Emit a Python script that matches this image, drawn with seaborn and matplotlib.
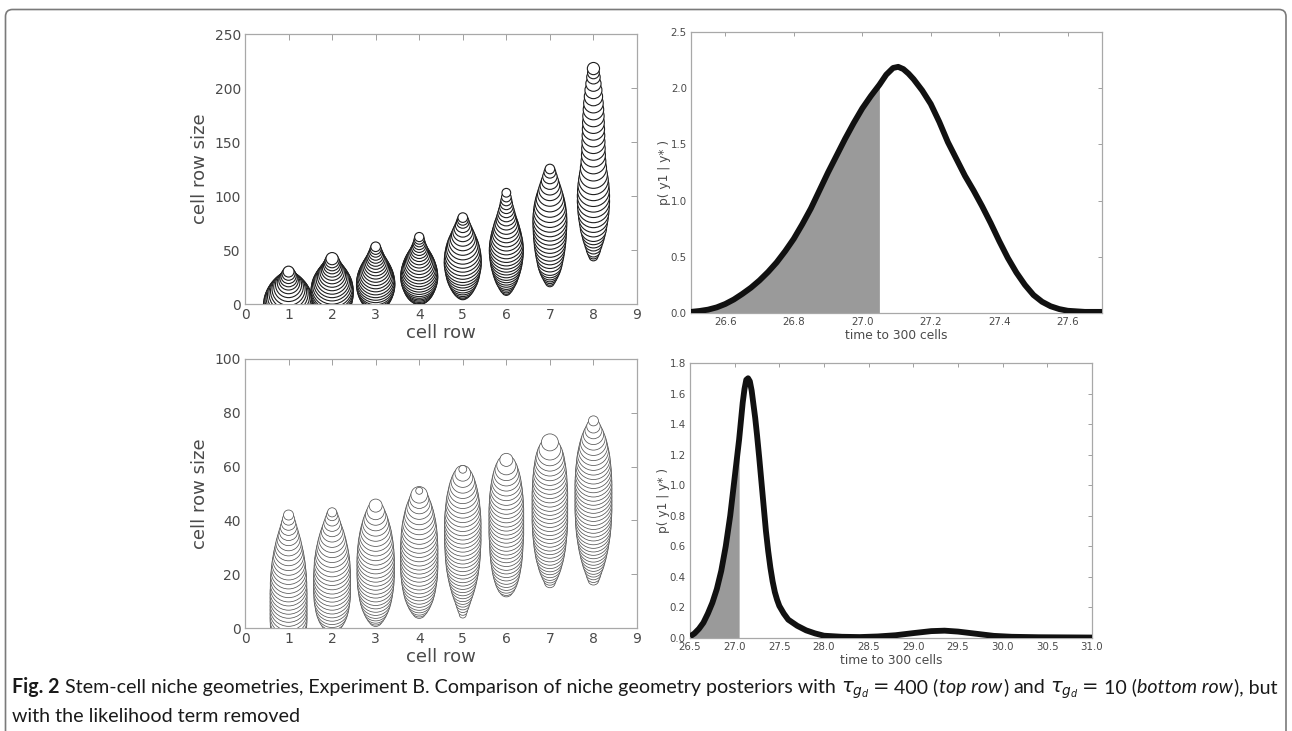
import numpy as np
import pandas as pd
import matplotlib
matplotlib.use("Agg")
import matplotlib.pyplot as plt
import seaborn as sns
from matplotlib.patches import FancyBboxPatch
from matplotlib.transforms import IdentityTransform

# ---------------- data ----------------
cell_rows = [1, 2, 3, 4, 5, 6, 7, 8]

# top row (tau = 400): sampled row sizes per cell row and relative frequency (circle width, in cell-row units)
top_y = [
    [0, 2, 4, 6, 8, 10, 12, 14, 16, 18, 20, 22, 24, 26, 28, 30],
    [0, 2, 4, 6, 8, 10, 12, 14, 16, 18, 20, 22, 24, 26, 28, 30, 32, 34, 36, 38, 40, 42],
    [3, 5, 7, 9, 11, 13, 15, 17, 19, 21, 23, 25, 27, 29, 31, 33, 35, 37, 39, 41, 43, 45, 47, 49, 51, 53],
    [6, 8, 10, 12, 14, 16, 18, 20, 22, 24, 26, 28, 30, 32, 34, 36, 38, 40, 42, 44, 46, 48, 50, 52, 54, 56, 58, 60, 62],
    [8, 10, 13, 16, 19, 22, 25, 28, 31, 34, 37, 40, 43, 46, 49, 52, 55, 58, 61, 64, 67, 70, 73, 76, 78, 80],
    [12, 15, 18, 21, 24, 27, 30, 33, 36, 39, 42, 45, 48, 51, 54, 57, 60, 63, 66, 69, 72, 75, 78, 81, 84, 87, 90, 93, 96, 99, 103],
    [20, 23, 26, 29, 32, 35, 38, 42, 46, 50, 54, 58, 62, 66, 70, 74, 78, 82, 86, 90, 94, 98, 102, 106, 110, 114, 118, 122, 125],
    [44, 47, 50, 54, 58, 62, 66, 70, 75, 80, 85, 90, 95, 100, 105, 110, 115, 120, 126, 132, 138, 144, 150, 156, 162, 168, 174, 180, 186, 192, 198, 204, 210, 214, 218],
]
top_w = [
    [1.15, 1.12, 1.08, 1.03, 0.97, 0.9, 0.83, 0.76, 0.68, 0.6, 0.52, 0.45, 0.4, 0.35, 0.3, 0.25],
    [0.85, 0.88, 0.91, 0.94, 0.96, 0.97, 0.97, 0.96, 0.94, 0.9, 0.85, 0.8, 0.74, 0.68, 0.62, 0.56, 0.5, 0.45, 0.4, 0.36, 0.32, 0.28],
    [0.55, 0.62, 0.68, 0.74, 0.79, 0.83, 0.86, 0.88, 0.88, 0.87, 0.85, 0.82, 0.78, 0.74, 0.69, 0.64, 0.59, 0.54, 0.49, 0.44, 0.4, 0.36, 0.32, 0.28, 0.25, 0.22],
    [0.3, 0.42, 0.52, 0.6, 0.67, 0.72, 0.76, 0.8, 0.83, 0.85, 0.85, 0.84, 0.82, 0.79, 0.76, 0.72, 0.68, 0.63, 0.58, 0.53, 0.48, 0.43, 0.39, 0.35, 0.31, 0.28, 0.25, 0.23, 0.21],
    [0.18, 0.3, 0.42, 0.52, 0.6, 0.67, 0.73, 0.77, 0.8, 0.83, 0.85, 0.85, 0.84, 0.82, 0.79, 0.75, 0.7, 0.64, 0.58, 0.52, 0.46, 0.4, 0.34, 0.29, 0.25, 0.22],
    [0.2, 0.3, 0.38, 0.45, 0.52, 0.57, 0.62, 0.66, 0.7, 0.73, 0.75, 0.77, 0.78, 0.78, 0.77, 0.75, 0.72, 0.69, 0.65, 0.61, 0.57, 0.52, 0.47, 0.43, 0.39, 0.35, 0.31, 0.28, 0.25, 0.22, 0.2],
    [0.2, 0.28, 0.35, 0.42, 0.48, 0.53, 0.57, 0.61, 0.65, 0.68, 0.71, 0.73, 0.75, 0.76, 0.77, 0.78, 0.78, 0.77, 0.75, 0.72, 0.68, 0.63, 0.57, 0.51, 0.45, 0.39, 0.33, 0.27, 0.22],
    [0.2, 0.26, 0.32, 0.38, 0.44, 0.5, 0.55, 0.6, 0.64, 0.68, 0.71, 0.73, 0.74, 0.74, 0.73, 0.71, 0.68, 0.64, 0.6, 0.57, 0.55, 0.54, 0.53, 0.52, 0.51, 0.5, 0.49, 0.47, 0.45, 0.42, 0.39, 0.35, 0.31, 0.27, 0.28],
]

# bottom row (tau = 10)
bot_y = [
    [0, 1.5, 3, 4.5, 6, 7.5, 9, 10.5, 12, 13.5, 15, 16.5, 18, 19.5, 21, 22.5, 24, 25.5, 27, 28.5, 30, 31.5, 33, 34.5, 36, 37.5, 39, 40.5, 42],
    [3, 4.5, 6, 7.5, 9, 10.5, 12, 13.5, 15, 16.5, 18, 19.5, 21, 22.5, 24, 25.5, 27, 28.5, 30, 31.5, 33, 34.5, 36, 37.5, 39, 40.5, 42, 43],
    [3, 4.5, 6, 7.5, 9, 10.5, 12, 13.5, 15, 16.5, 18, 19.5, 21, 22.5, 24, 25.5, 27, 28.5, 30, 31.5, 33, 34.5, 36, 37.5, 39, 40.5, 42, 43.5, 45.5],
    [6, 7.5, 9, 10.5, 12, 13.5, 15, 16.5, 18, 19.5, 21, 22.5, 24, 25.5, 27, 28.5, 30, 31.5, 33, 34.5, 36, 37.5, 39, 40.5, 42, 43.5, 45, 46.5, 48, 49.5, 51],
    [5, 6.5, 8, 9.5, 11, 12.5, 14, 15.5, 17, 18.5, 20, 21.5, 23, 24.5, 26, 27.5, 29, 30.5, 32, 33.5, 35, 36.5, 38, 39.5, 41, 42.5, 44, 45.5, 47, 48.5, 50, 51.5, 53, 54.5, 56, 57.5, 59],
    [14, 15.5, 17, 18.5, 20, 21.5, 23, 24.5, 26, 27.5, 29, 30.5, 32, 33.5, 35, 36.5, 38, 39.5, 41, 42.5, 44, 45.5, 47, 48.5, 50, 51.5, 53, 54.5, 56, 57.5, 59, 60.5, 62.5],
    [17, 18.5, 20, 21.5, 23, 24.5, 26, 27.5, 29, 30.5, 32, 33.5, 35, 36.5, 38, 39.5, 41, 42.5, 44, 45.5, 47, 48.5, 50, 51.5, 53, 54.5, 56, 57.5, 59, 60.5, 62, 63.5, 65, 66.5, 69],
    [18, 19.5, 21, 22.5, 24, 25.5, 27, 28.5, 30, 31.5, 33, 34.5, 36, 37.5, 39, 40.5, 42, 43.5, 45, 46.5, 48, 49.5, 51, 52.5, 54, 55.5, 57, 58.5, 60, 61.5, 63, 64.5, 66, 67.5, 69, 70.5, 72, 73.5, 75, 77],
]
bot_w = [
    [0.83, 0.84, 0.85, 0.85, 0.85, 0.85, 0.85, 0.85, 0.85, 0.85, 0.84, 0.84, 0.83, 0.82, 0.8, 0.78, 0.76, 0.73, 0.7, 0.66, 0.62, 0.58, 0.53, 0.48, 0.43, 0.38, 0.33, 0.28, 0.23],
    [0.55, 0.65, 0.72, 0.77, 0.8, 0.83, 0.84, 0.85, 0.85, 0.85, 0.85, 0.85, 0.84, 0.83, 0.82, 0.8, 0.77, 0.74, 0.7, 0.66, 0.61, 0.56, 0.5, 0.44, 0.38, 0.32, 0.26, 0.21],
    [0.3, 0.42, 0.52, 0.6, 0.67, 0.72, 0.76, 0.79, 0.82, 0.84, 0.85, 0.86, 0.86, 0.86, 0.86, 0.86, 0.85, 0.84, 0.82, 0.8, 0.77, 0.74, 0.7, 0.65, 0.6, 0.54, 0.47, 0.4, 0.3],
    [0.3, 0.42, 0.52, 0.6, 0.67, 0.72, 0.76, 0.79, 0.82, 0.84, 0.85, 0.86, 0.86, 0.86, 0.86, 0.86, 0.86, 0.85, 0.84, 0.83, 0.81, 0.79, 0.76, 0.72, 0.68, 0.63, 0.57, 0.5, 0.44, 0.38, 0.16],
    [0.16, 0.22, 0.28, 0.34, 0.4, 0.46, 0.52, 0.57, 0.62, 0.66, 0.7, 0.73, 0.76, 0.78, 0.8, 0.81, 0.82, 0.83, 0.84, 0.84, 0.84, 0.84, 0.84, 0.84, 0.83, 0.82, 0.8, 0.78, 0.76, 0.73, 0.69, 0.65, 0.6, 0.54, 0.46, 0.36, 0.18],
    [0.3, 0.42, 0.5, 0.56, 0.61, 0.65, 0.68, 0.71, 0.73, 0.75, 0.76, 0.77, 0.78, 0.79, 0.8, 0.8, 0.8, 0.8, 0.8, 0.8, 0.8, 0.79, 0.78, 0.77, 0.75, 0.73, 0.7, 0.67, 0.63, 0.58, 0.52, 0.44, 0.3],
    [0.25, 0.32, 0.4, 0.47, 0.53, 0.58, 0.63, 0.67, 0.7, 0.73, 0.75, 0.77, 0.79, 0.8, 0.81, 0.82, 0.82, 0.82, 0.82, 0.82, 0.82, 0.82, 0.82, 0.81, 0.8, 0.79, 0.78, 0.76, 0.74, 0.71, 0.68, 0.64, 0.58, 0.5, 0.39],
    [0.25, 0.32, 0.38, 0.44, 0.5, 0.55, 0.6, 0.64, 0.68, 0.71, 0.74, 0.77, 0.79, 0.81, 0.82, 0.83, 0.84, 0.85, 0.85, 0.85, 0.85, 0.85, 0.85, 0.85, 0.85, 0.84, 0.83, 0.82, 0.8, 0.78, 0.76, 0.73, 0.69, 0.65, 0.6, 0.54, 0.47, 0.39, 0.31, 0.23],
]

# posterior densities of time to 300 cells
top_t = [26.50, 26.525, 26.55, 26.575, 26.60, 26.625, 26.65, 26.675, 26.70, 26.725, 26.75, 26.775,
         26.80, 26.825, 26.85, 26.875, 26.90, 26.925, 26.95, 26.975, 27.00, 27.025, 27.05, 27.07,
         27.09, 27.105, 27.12, 27.135, 27.15, 27.175, 27.20, 27.225, 27.25, 27.275, 27.30, 27.325,
         27.35, 27.375, 27.40, 27.425, 27.45, 27.475, 27.50, 27.525, 27.55, 27.575, 27.60, 27.65,
         27.70]
top_p = [0.01, 0.018, 0.03, 0.05, 0.08, 0.12, 0.17, 0.225, 0.29, 0.365, 0.45, 0.55,
         0.66, 0.79, 0.93, 1.09, 1.25, 1.40, 1.55, 1.69, 1.82, 1.93, 2.03, 2.12,
         2.18, 2.19, 2.17, 2.13, 2.08, 1.98, 1.86, 1.70, 1.52, 1.37, 1.22, 1.09,
         0.95, 0.80, 0.64, 0.49, 0.36, 0.25, 0.16, 0.10, 0.06, 0.035, 0.02, 0.01,
         0.01]
bot_t = [26.50, 26.55, 26.60, 26.65, 26.70, 26.75, 26.80, 26.85, 26.90, 26.95, 27.00, 27.05,
         27.07, 27.09, 27.11, 27.13, 27.15, 27.17, 27.19, 27.21, 27.23, 27.25, 27.275, 27.30,
         27.325, 27.35, 27.375, 27.40, 27.425, 27.45, 27.475, 27.50, 27.55, 27.60, 27.65, 27.70,
         27.80, 27.90, 28.00, 28.20, 28.40, 28.60, 28.80, 29.00, 29.20, 29.35, 29.50, 29.70,
         29.90, 30.10, 30.40, 30.70, 31.00]
bot_p = [0.01, 0.03, 0.06, 0.10, 0.16, 0.23, 0.32, 0.44, 0.60, 0.80, 1.05, 1.30,
         1.42, 1.54, 1.63, 1.69, 1.70, 1.68, 1.62, 1.53, 1.44, 1.33, 1.18, 1.02,
         0.86, 0.70, 0.57, 0.46, 0.37, 0.30, 0.25, 0.21, 0.16, 0.12, 0.10, 0.08,
         0.05, 0.03, 0.015, 0.008, 0.006, 0.010, 0.018, 0.032, 0.045, 0.048, 0.042, 0.028,
         0.014, 0.008, 0.005, 0.004, 0.003]
shade_limit = 27.05

top_xticks = [26.6, 26.8, 27.0, 27.2, 27.4, 27.6]
top_yticks = [0.0, 0.5, 1.0, 1.5, 2.0, 2.5]
bot_xticks = [26.5, 27.0, 27.5, 28.0, 28.5, 29.0, 29.5, 30.0, 30.5, 31.0]
bot_yticks = [0.0, 0.2, 0.4, 0.6, 0.8, 1.0, 1.2, 1.4, 1.6, 1.8]

caption_line1 = [
    ("Fig. 2", "bold"), (" ", None),
    ("Stem-cell niche geometries, Experiment B. Comparison of niche geometry posteriors with", "normal"), (" ", None),
    (r"$\tau_{g_d}=$", "math"), (" ", None), ("400 (", "normal"),
    ("top row", "italic"), (")", "normal"), (" ", None), ("and", "normal"), (" ", None),
    (r"$\tau_{g_d}=$", "math"), (" ", None), ("10 (", "normal"),
    ("bottom row", "italic"), ("), but", "normal"),
]
caption_line2 = [("with the likelihood term removed", "normal")]

# ---------------- style ----------------
sns.set_style("white")
plt.rcParams['font.family'] = ['DejaVu Sans']
plt.rcParams['mathtext.fontset'] = 'dejavusans'

W, H, DPI = 1292, 731, 100
fig = plt.figure(figsize=(W / DPI, H / DPI), dpi=DPI)
fig.patch.set_facecolor('white')

def px_axes(l, t, r, b):
    return fig.add_axes([l / W, 1 - b / H, (r - l) / W, (b - t) / H])

ax_tl = px_axes(245, 34, 637, 304)
ax_tr = px_axes(691, 32, 1102, 313)
ax_bl = px_axes(245, 359, 637, 628)
ax_br = px_axes(690, 363, 1092, 638)

TXT = '#4a4a4a'
SPINE = '#a8a8a8'

def style_axes(ax, tick_size, tick_len):
    for s in ax.spines.values():
        s.set_visible(True)
        s.set_color(SPINE)
        s.set_linewidth(0.9)
    ax.tick_params(direction='in', top=True, right=True, length=tick_len, width=0.7,
                   color='#a0a0a0', labelcolor=TXT, labelsize=tick_size, pad=3)

def circles(ax, ys, ws, edge, lw):
    rows, yy, ww = [], [], []
    for r, yl, wl in zip(cell_rows, ys, ws):
        rows += [r] * len(yl)
        yy += list(yl)
        ww += list(wl)
    df = pd.DataFrame({'row': rows, 'size': yy, 'w': ww})
    bb = ax.get_position()
    px_per_unit = bb.width * W / 9.0
    diam_pt = df['w'].values * px_per_unit * 72.0 / DPI
    sns.scatterplot(data=df, x='row', y='size', s=diam_pt ** 2, color='white',
                    edgecolor=edge, linewidth=lw, ax=ax, legend=False, zorder=3)

def left_panel(ax, ys, ws, ymax, ystep, edge, lw):
    circles(ax, ys, ws, edge, lw)
    ax.set_xlim(0, 9)
    ax.set_ylim(0, ymax)
    ax.set_xticks(range(0, 10))
    ax.set_yticks(np.arange(0, ymax + 1, ystep))
    style_axes(ax, 10, 4)
    ax.set_xlabel('cell row', fontsize=13, color=TXT, labelpad=1)
    ax.set_ylabel('cell row size', fontsize=13, color=TXT, labelpad=4)

left_panel(ax_tl, top_y, top_w, 250, 50, '#1e1e1e', 0.8)
left_panel(ax_bl, bot_y, bot_w, 100, 20, '#555555', 0.55)

def right_panel(ax, t, p, xlim, ylim, xt, yt):
    t = np.asarray(t); p = np.asarray(p)
    m = t <= shade_limit + 1e-9
    ax.fill_between(t[m], 0, p[m], color='#9a9a9a', lw=0, zorder=1)
    sns.lineplot(x=t, y=p, color='#111111', lw=4.2, ax=ax, zorder=3,
                 solid_joinstyle='round', solid_capstyle='butt')
    ax.set_xlim(*xlim)
    ax.set_ylim(*ylim)
    ax.set_xticks(xt)
    ax.set_yticks(yt)
    ax.set_xticklabels([f'{v:.1f}' for v in xt])
    ax.set_yticklabels([f'{v:.1f}' for v in yt])
    style_axes(ax, 7.4, 3)
    ax.set_xlabel('time to 300 cells', fontsize=8.8, color=TXT, labelpad=1)
    ax.set_ylabel('p( y1 | y* )', fontsize=8.8, color=TXT, labelpad=0)

right_panel(ax_tr, top_t, top_p, (26.5, 27.7), (0, 2.5), top_xticks, top_yticks)
right_panel(ax_br, bot_t, bot_p, (26.5, 31.0), (0, 1.8), bot_xticks, bot_yticks)

# ---------------- border ----------------
border = FancyBboxPatch((5.5, -30), 1286 - 5.5, H - 9.5 + 30,
                        boxstyle="round,pad=0,rounding_size=7",
                        transform=IdentityTransform(), fill=False,
                        edgecolor='#7a7a7a', linewidth=1.2)
fig.add_artist(border)

# ---------------- caption ----------------
CAP_FONT = ['Lato', 'DejaVu Sans']
fig.canvas.draw()
renderer = fig.canvas.get_renderer()

def make_text(x, y, s, kind, size):
    kw = dict(fontsize=size, color='#1a1a1a', transform=IdentityTransform(),
              va='baseline', ha='left')
    if kind == 'math':
        return fig.text(x, y, s, **kw)
    kw['family'] = CAP_FONT
    if kind == 'bold':
        kw['weight'] = 'bold'
    if kind == 'italic':
        kw['style'] = 'italic'
    return fig.text(x, y, s, **kw)

def draw_line(pieces, x0, y0, size):
    x = x0
    arts = []
    space_w = None
    for s, kind in pieces:
        if kind is None:
            if space_w is None:
                a = make_text(0, 0, 'a a', 'normal', size)
                b = make_text(0, 0, 'aa', 'normal', size)
                space_w = a.get_window_extent(renderer).width - b.get_window_extent(renderer).width
                a.remove(); b.remove()
            x += space_w
            continue
        t = make_text(x, y0, s, kind, size)
        arts.append(t)
        x += t.get_window_extent(renderer).width + (1.0 if kind == 'italic' else 0.3)
    return arts, x - x0

arts, width = draw_line(caption_line1, 12, H - 693, 11)
for a in arts:
    a.remove()
cap_size = 11 * 1262.0 / width
draw_line(caption_line1, 12, H - 693, cap_size)
draw_line(caption_line2, 12, H - 722, cap_size)

fig.savefig('out.png', dpi=DPI)
